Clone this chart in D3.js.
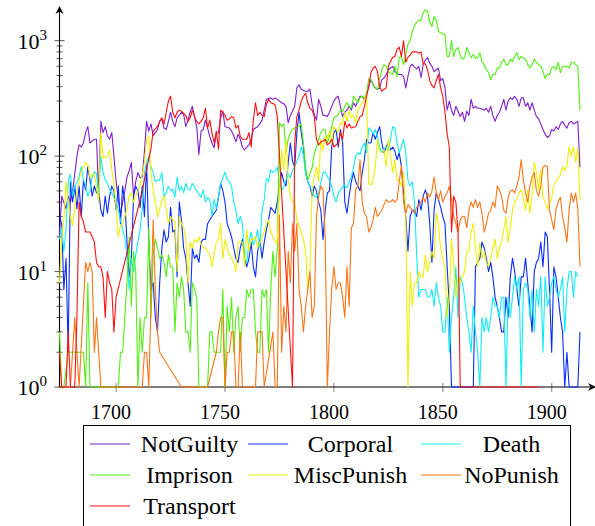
<!DOCTYPE html>
<html>
<head>
<meta charset="utf-8">
<script src="https://cdn.jsdelivr.net/npm/d3@7"></script>
<style>
  body { margin: 0; background: #fff; }
  svg text { font-family: "Liberation Serif", "DejaVu Serif", serif; fill: #000; }
</style>
</head>
<body>
<svg id="chart"></svg>
<script>
// *********************************************
// DATA (one value per year, 1674 - 1913)
// *********************************************
var firstYear = 1674, lastYear = 1913;

var notGuilty = [
  20, 45, 40, 35, 45, 40, 50, 70, 100, 125,
  120, 130, 160, 180, 130, 135, 140, 140, 45, 200,
  160, 180, 150, 140, 160, 100, 60, 42, 31, 40,
  50, 66, 75, 88, 45, 60, 72, 65, 66, 110,
  200, 165, 190, 150, 160, 170, 200, 210, 175, 170,
  200, 240, 200, 180, 215, 225, 240, 230, 180, 205,
  240, 270, 220, 180, 103, 165, 170, 205, 175, 148,
  130, 118, 155, 160, 215, 245, 180, 178, 175, 165,
  150, 133, 155, 140, 120, 113, 120, 125, 140, 170,
  175, 180, 190, 205, 250, 310, 315, 320, 310, 320,
  310, 300, 290, 285, 270, 195, 225, 245, 270, 390,
  415, 380, 370, 365, 365, 380, 280, 230, 205, 310,
  270, 225, 225, 220, 240, 270, 300, 320, 330, 270,
  220, 240, 250, 270, 250, 290, 270, 300, 330, 330,
  310, 345, 400, 460, 420, 390, 380, 390, 460, 475,
  510, 560, 580, 600, 540, 520, 510, 510, 490, 390,
  490, 600, 625, 590, 570, 600, 480, 625, 680, 715,
  640, 600, 540, 560, 580, 450, 470, 390, 250, 300,
  250, 225, 270, 245, 220, 240, 200, 245, 225, 310,
  260, 270, 260, 260, 255, 250, 260, 240, 270, 225,
  200, 225, 240, 270, 310, 250, 300, 320, 310, 330,
  310, 270, 320, 320, 270, 290, 250, 290, 250, 220,
  210, 190, 170, 155, 145, 150, 170, 165, 180, 170,
  190, 200, 185, 175, 195, 200, 190, 195, 200, 80
];

var corporal = [
  30, 26, 7, 13, 2, 60, 40, 55, 35, 55,
  30, 62, 51, 81, 62, 45, 55, 48, 50, 34,
  30, 45, 32, 45, 55, 50, 34, 55, 26, 55,
  40, 18, 9, 13, 45, 55, 50, 36, 55, 30,
  88, 18, 7, 8, 4, 3, 8, 16, 23, 18,
  20, 36, 22, 23, 9, 40, 28, 16, 13, 8,
  5, 16, 13, 14, 12, 18, 19, 19, 26, 28,
  30, 32, 34, 44, 58, 50, 40, 26, 23, 20,
  16, 13, 12, 16, 19, 13, 11, 13, 18, 11,
  9, 15, 19, 13, 18, 23, 28, 36, 34, 32,
  40, 55, 72, 60, 55, 88, 130, 90, 81, 160,
  240, 160, 120, 72, 60, 55, 45, 55, 50, 40,
  34, 19, 34, 48, 50, 120, 160, 170, 120, 170,
  130, 40, 32, 45, 60, 72, 60, 55, 50, 72,
  93, 140, 130, 130, 160, 140, 160, 180, 130, 107,
  120, 130, 113, 120, 110, 93, 107, 81, 48, 30,
  15, 30, 34, 34, 30, 42, 34, 45, 51, 44,
  26, 12, 34, 48, 42, 36, 30, 26, 11, 5,
  1, 0, 1, 0, 0, 1, 0, 1, 0, 0,
  1, 11, 12, 13, 18, 16, 13, 10, 12, 9,
  6, 5, 4, 3, 3, 6, 4, 9, 13, 10,
  7, 5, 9, 9, 13, 8, 5, 3, 10, 12,
  13, 18, 11, 22, 20, 7, 2, 11, 9, 6,
  4, 3, 1, 2, 1, 0, 1, 0, 1, 3
];

var death = [
  19, 24, 15, 23, 60, 70, 45, 55, 60, 66,
  81, 62, 55, 45, 50, 66, 73, 70, 45, 100,
  72, 62, 58, 51, 48, 44, 40, 34, 28, 23,
  20, 13, 7, 13, 10, 14, 18, 23, 35, 72,
  88, 100, 81, 72, 60, 62, 62, 72, 45, 48,
  55, 50, 52, 44, 66, 50, 55, 48, 58, 52,
  51, 58, 54, 50, 47, 44, 51, 40, 44, 42,
  30, 42, 35, 45, 58, 65, 73, 62, 60, 55,
  40, 34, 26, 30, 26, 13, 12, 18, 22, 17,
  19, 23, 16, 34, 42, 64, 60, 76, 72, 75,
  80, 60, 50, 55, 62, 70, 65, 75, 80, 90,
  100, 120, 100, 72, 60, 55, 50, 45, 44, 48,
  60, 72, 73, 66, 62, 55, 45, 40, 48, 51,
  54, 56, 53, 60, 66, 80, 100, 107, 103, 120,
  130, 107, 175, 170, 155, 170, 148, 120, 107, 115,
  120, 113, 140, 180, 175, 130, 107, 120, 140, 107,
  62, 55, 60, 40, 14, 6, 7, 7, 7, 6,
  6, 7, 5, 8, 6, 5, 3, 3, 6, 2,
  4, 6, 11, 4, 9, 8, 6, 4, 3, 2,
  5, 3, 2, 1, 4, 3, 4, 3, 4, 6,
  5, 5, 4, 6, 6, 1, 6, 4, 6, 9,
  7, 9, 1, 7, 8, 7, 4, 7, 3, 7,
  5, 9, 2, 9, 5, 6, 8, 9, 7, 6,
  7, 9, 3, 7, 10, 10, 6, 10, 9, 0
];

var imprison = [
  3, 1, 1, 0, 2, 2, 2, 2, 2, 2,
  2, 2, 1, 8, 1, 0, 0, 0, 0, 0,
  0, 0, 0, 1, 1, 0, 1, 1, 2, 2,
  4, 8, 20, 5, 15, 10, 1, 4, 2, 4,
  4, 24, 4, 14, 19, 16, 13, 14, 12, 9,
  14, 11, 11, 3, 8, 6, 9, 7, 3, 3,
  2, 8, 7, 6, 1, 0, 0, 0, 1, 3,
  3, 2, 2, 2, 2, 7, 1, 5, 3, 6,
  2, 4, 5, 2, 4, 4, 7, 6, 7, 7,
  3, 2, 2, 7, 6, 7, 2, 7, 15, 9,
  16, 195, 180, 190, 107, 140, 160, 170, 175, 178,
  180, 190, 130, 80, 62, 70, 80, 107, 120, 140,
  160, 170, 170, 130, 150, 180, 215, 220, 230, 250,
  245, 270, 290, 270, 260, 330, 310, 290, 320, 330,
  320, 350, 470, 460, 410, 390, 380, 470, 560, 620,
  600, 540, 520, 510, 600, 490, 720, 730, 620, 760,
  930, 1000, 1200, 1350, 1450, 1500, 1500, 1750, 1850, 1800,
  1450, 1330, 1620, 1500, 1200, 1170, 1150, 1120, 730, 730,
  1000, 730, 840, 870, 750, 690, 710, 870, 790, 710,
  760, 710, 710, 790, 660, 620, 560, 530, 460, 510,
  510, 580, 580, 650, 690, 620, 620, 690, 660, 730,
  790, 690, 730, 710, 690, 620, 580, 620, 690, 650,
  620, 600, 540, 470, 510, 510, 580, 600, 560, 650,
  530, 600, 600, 600, 580, 650, 650, 620, 600, 250
];

var miscPunish = [
  8, 19, 28, 60, 40, 30, 25, 35, 50, 60,
  75, 80, 88, 85, 65, 70, 70, 55, 40, 160,
  97, 97, 100, 113, 76, 58, 36, 20, 25, 26,
  30, 35, 45, 48, 40, 45, 50, 55, 70, 88,
  140, 148, 72, 51, 40, 30, 35, 42, 45, 35,
  26, 30, 28, 27, 10, 30, 26, 24, 19, 8,
  18, 16, 19, 18, 20, 17, 16, 16, 15, 14,
  11, 14, 18, 19, 26, 13, 19, 16, 14, 13,
  12, 10, 18, 18, 18, 11, 23, 15, 19, 19,
  20, 16, 18, 20, 22, 26, 28, 22, 20, 18,
  18, 50, 113, 76, 140, 62, 45, 40, 40, 28,
  25, 22, 19, 15, 7, 10, 51, 66, 81, 60,
  140, 113, 148, 140, 165, 130, 180, 170, 160, 195,
  190, 240, 200, 250, 215, 225, 195, 250, 270, 290,
  310, 340, 58, 56, 62, 81, 140, 110, 107, 113,
  81, 140, 100, 72, 93, 62, 62, 55, 72, 30,
  1, 10, 5, 8, 8, 10, 9, 9, 14, 10,
  12, 15, 13, 32, 26, 16, 13, 11, 4, 6,
  19, 12, 6, 9, 8, 9, 10, 15, 15, 22,
  26, 16, 11, 18, 13, 15, 12, 11, 13, 16,
  19, 13, 16, 18, 23, 30, 18, 24, 34, 40,
  42, 48, 51, 44, 34, 51, 32, 45, 88, 72,
  51, 76, 44, 40, 35, 38, 44, 56, 60, 64,
  69, 81, 75, 83, 120, 100, 120, 88, 118, 42
];

var noPunish = [
  1, 0, 0, 0, 1, 1, 2, 4, 2, 1,
  0, 0, 12, 10, 12, 10, 2, 4, 2, 1,
  0, 0, 0, 0, 0, 0, 1, 0, 0, 0,
  0, 0, 0, 1, 0, 0, 0, 0, 1, 2,
  2, 1, 0, 28, 7, 3, 2, 0, 0, 0,
  0, 0, 0, 0, 0, 0, 1, 0, 0, 0,
  0, 0, 0, 0, 1, 0, 0, 0, 1, 0,
  0, 0, 2, 3, 4, 4, 1, 2, 2, 3,
  3, 1, 1, 3, 1, 0, 0, 0, 0, 0,
  1, 3, 3, 3, 1, 0, 0, 0, 3, 1,
  1, 31, 2, 5, 3, 15, 8, 26, 15, 26,
  7, 5, 3, 5, 7, 10, 4, 5, 30, 45,
  55, 51, 19, 1, 3, 7, 11, 7, 8, 8,
  6, 4, 11, 5, 24, 26, 51, 55, 93, 40,
  32, 30, 22, 24, 28, 36, 30, 32, 34, 38,
  42, 40, 40, 42, 40, 42, 60, 83, 40, 32,
  38, 36, 34, 32, 36, 38, 40, 44, 40, 48,
  44, 50, 66, 48, 42, 50, 40, 45, 48, 55,
  42, 30, 26, 22, 28, 30, 30, 24, 34, 40,
  36, 42, 36, 40, 32, 22, 26, 32, 34, 40,
  36, 55, 51, 45, 34, 32, 44, 50, 51, 48,
  55, 66, 93, 62, 48, 40, 55, 66, 72, 50,
  45, 55, 81, 83, 81, 34, 28, 23, 35, 40,
  44, 30, 24, 18, 34, 48, 40, 48, 35, 11
];

var transport = [
  2, 1, 1, 1, 3, 1, 1, 1, 4, 40,
  30, 27, 22, 22, 22, 20, 18, 12, 11, 11,
  9, 4, 10, 8, 7, 3, 6, 0, 0, 0,
  0, 0, 0, 0, 0, 0, 0, 0, 50, 63,
  76, 95, 115, 165, 172, 180, 200, 215, 190, 240,
  300, 330, 240, 215, 240, 250, 245, 235, 225, 200,
  215, 250, 220, 200, 190, 200, 215, 260, 175, 205,
  160, 130, 165, 115, 250, 240, 225, 205, 210, 220,
  215, 175, 185, 148, 140, 140, 140, 160, 120, 205,
  290, 225, 240, 225, 220, 280, 310, 290, 285, 280,
  220, 0, 0, 0, 0, 0, 0, 1, 130, 220,
  250, 300, 330, 350, 290, 260, 250, 220, 140, 125,
  133, 135, 140, 125, 130, 140, 120, 125, 130, 160,
  140, 200, 175, 190, 175, 178, 180, 200, 220, 225,
  270, 330, 400, 530, 580, 600, 540, 400, 365, 380,
  390, 600, 660, 720, 730, 840, 880, 730, 1000, 650,
  720, 750, 800, 800, 800, 780, 800, 630, 630, 560,
  450, 410, 390, 450, 510, 390, 330, 240, 155, 120,
  22, 45, 40, 22, 1, 0, 1, 0, 0, 0,
  1, 0, 0, 1, 0, 0, 0, 0, 0, 1,
  0, 0, 0, 0, 0, 0, 1, 0, 0, 0,
  0, 0, 0, 1, 0, 0, 0, 0, 0, 0,
  1, 0, 0, 0, 0, 0, 0, 0, 0, 0,
  0, 0, 0, 0, 0, 0, 0, 0, 0, 0
];

var seriesNames  = ["NotGuilty", "Corporal", "Death", "Imprison", "MiscPunish", "NoPunish", "Transport"];
var seriesValues = [notGuilty, corporal, death, imprison, miscPunish, noPunish, transport];
var seriesColors = ["#7f1fcf", "#0a2cff", "#10ecf4", "#50f010", "#eef000", "#ff7414", "#ff1010"];

var xTicks = [1700, 1750, 1800, 1850, 1900];
var yTicks = [1, 10, 100, 1000];
var yTickLabels = ["0", "1", "2", "3"];

// *********************************************
// SETUP
// *********************************************
var width = 595, height = 526;

var svg = d3.select("#chart")
    .attr("width", width)
    .attr("height", height);

var x = d3.scaleLinear().domain([firstYear, lastYear]).range([59.5, 580]);
var y = d3.scaleLog().domain([1, 1000]).range([387, 40.7]);

svg.append("clipPath").attr("id", "plotclip")
  .append("rect")
    .attr("x", x(firstYear) - 1).attr("y", 0)
    .attr("width", x(lastYear) - x(firstYear) + 2).attr("height", y(1) + 1);

// minor ticks on the log axis
var minorTicks = [];
yTicks.slice(0, -1).forEach(function(t) {
  for (var k = 2; k <= 9; k++) minorTicks.push(t * k);
});

var axisG = svg.append("g");

axisG.selectAll("line.ymajor")
    .data(yTicks)
  .enter().append("line")
    .attr("x1", x(firstYear) - 5).attr("x2", x(firstYear) + 5)
    .attr("y1", d => y(d)).attr("y2", d => y(d))
    .attr("stroke", "#444").attr("stroke-width", 0.9);

axisG.selectAll("line.yminor")
    .data(minorTicks)
  .enter().append("line")
    .attr("x1", x(firstYear) - 3).attr("x2", x(firstYear) + 3)
    .attr("y1", d => y(d)).attr("y2", d => y(d))
    .attr("stroke", "#444").attr("stroke-width", 0.9);

axisG.selectAll("line.xtick")
    .data(xTicks)
  .enter().append("line")
    .attr("x1", d => x(d)).attr("x2", d => x(d))
    .attr("y1", y(1) - 4).attr("y2", y(1) + 5)
    .attr("stroke", "#999").attr("stroke-width", 1.2);

// *********************************************
// LINES
// *********************************************
var line = d3.line()
    .x(d => x(d.year))
    .y(d => y(d.value));

var plot = svg.append("g").attr("clip-path", "url(#plotclip)");

seriesValues.forEach(function(vals, i) {
  // zero counts cannot be shown on a log axis, so they are skipped
  var pts = vals.map(function(v, j) { return {year: firstYear + j, value: v}; })
                .filter(d => d.value > 0);
  plot.append("path")
      .datum(pts)
      .attr("d", line)
      .attr("fill", "none")
      .attr("stroke", seriesColors[i])
      .attr("stroke-width", 1.1)
      .attr("stroke-linejoin", "round");
});

// *********************************************
// AXES
// *********************************************
var x0 = x(firstYear), y0 = y(1);

axisG.append("line")
    .attr("x1", x0).attr("x2", 592).attr("y1", y0).attr("y2", y0)
    .attr("stroke", "#000").attr("stroke-width", 1.1);
axisG.append("line")
    .attr("x1", x0).attr("x2", x0).attr("y1", y0).attr("y2", 10)
    .attr("stroke", "#000").attr("stroke-width", 1.1);

// arrow heads
svg.append("path")
    .attr("d", "M" + 596 + "," + y0 + " L" + 588 + "," + (y0 - 4) + " L" + 590.5 + "," + y0 + " L" + 588 + "," + (y0 + 4) + "Z")
    .attr("fill", "#000");
svg.append("path")
    .attr("d", "M" + x0 + "," + 6 + " L" + (x0 - 4) + "," + 14 + " L" + x0 + "," + 11.5 + " L" + (x0 + 4) + "," + 14 + "Z")
    .attr("fill", "#000");

svg.selectAll("text.xlab")
    .data(xTicks)
  .enter().append("text")
    .attr("x", d => x(d) - 5)
    .attr("y", y0 + 32)
    .attr("text-anchor", "middle")
    .style("font-size", "20px")
    .text(d => d);

var ylab = svg.selectAll("text.ylab")
    .data(yTicks)
  .enter().append("text")
    .attr("x", 47)
    .attr("y", d => y(d) + 8)
    .attr("text-anchor", "end")
    .style("font-size", "22px");
ylab.append("tspan").text("10");
ylab.append("tspan").attr("dy", -9).style("font-size", "15px").text((d, i) => yTickLabels[i]);

// *********************************************
// LEGEND
// *********************************************
var legend = svg.append("g");
legend.append("rect")
    .attr("x", 83.5).attr("y", 425.5)
    .attr("width", 487).attr("height", 120)
    .attr("fill", "#fff").attr("stroke", "#000").attr("stroke-width", 1);

var colImgX  = [90, 248, 421];
var colTextX = [189.5, 350.5, 511.5];
var rowY     = [444, 475, 506];

seriesNames.forEach(function(name, i) {
  var c = i % 3, r = Math.floor(i / 3);
  legend.append("line")
      .attr("x1", colImgX[c]).attr("x2", colImgX[c] + 40)
      .attr("y1", rowY[r]).attr("y2", rowY[r])
      .attr("stroke", seriesColors[i]).attr("stroke-width", 1.1);
  legend.append("text")
      .attr("x", colTextX[c]).attr("y", rowY[r] + 7.5)
      .attr("text-anchor", "middle")
      .style("font-size", "24px")
      .text(name);
});
</script>
</body>
</html>
